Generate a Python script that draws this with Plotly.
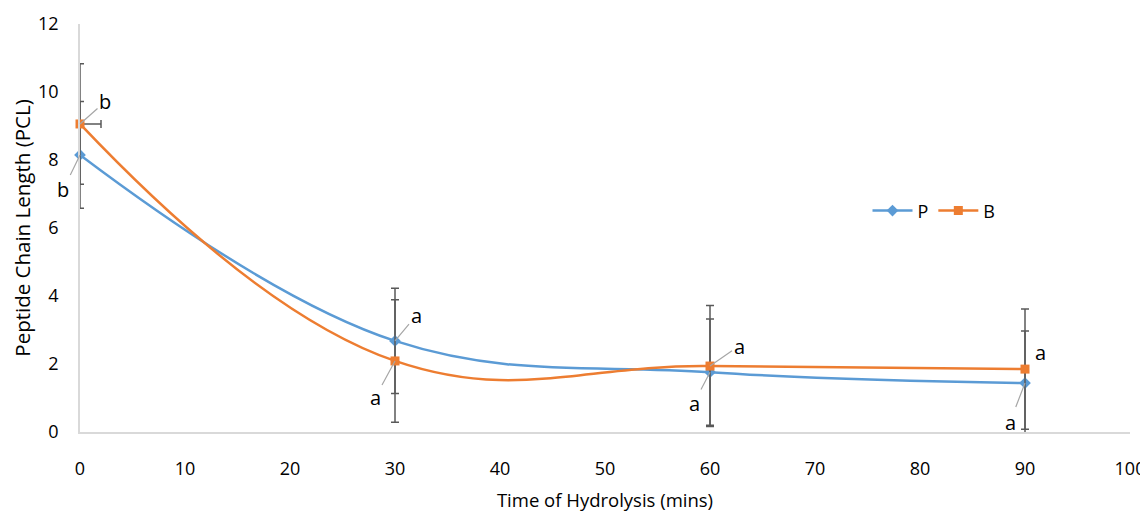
import plotly.graph_objects as go

time = [0, 30, 60, 90]
p_vals = [8.15, 2.68, 1.76, 1.44]
b_vals = [9.06, 2.09, 1.94, 1.85]
p_err = [1.57, 1.55, 1.56, 1.53]
b_err = [1.77, 1.80, 1.78, 1.77]
b_err_x = [2.0, 0, 0, 0]
p_labels = ["b", "a", "a", "a"]
b_labels = ["b", "a", "a", "a"]
x_ticks = list(range(0, 101, 10))
y_ticks = list(range(0, 13, 2))

FONT = "Open Sans, Liberation Sans, sans-serif"
ERR = "#595959"

fig = go.Figure()
fig.add_trace(go.Scatter(
    x=time, y=p_vals, name="P", mode="lines+markers",
    line=dict(color="#5B9BD5", width=2.5, shape="spline", smoothing=1.1),
    marker=dict(symbol="diamond", size=9, color="#5B9BD5"),
    error_y=dict(type="data", array=p_err, color=ERR, thickness=1.5, width=4),
    cliponaxis=False,
))
fig.add_trace(go.Scatter(
    x=time, y=b_vals, name="B", mode="lines+markers",
    line=dict(color="#ED7D31", width=2.5, shape="spline", smoothing=1.2),
    marker=dict(symbol="square", size=9, color="#ED7D31"),
    error_y=dict(type="data", array=b_err, color=ERR, thickness=1.5, width=4),
    error_x=dict(type="data", symmetric=False, array=b_err_x, arrayminus=[0, 0, 0, 0],
                 color=ERR, thickness=1.5, width=4),
    cliponaxis=False,
))

p_off = [(-17, 35), (21, -25), (-16, 31), (-15, 39)]
b_off = [(25, -22), (-20, 37), (29, -20), (15, -17)]
b_line = [True, True, True, False]
for i, t in enumerate(time):
    fig.add_annotation(x=t, y=p_vals[i], text=p_labels[i], ax=p_off[i][0], ay=p_off[i][1],
                       showarrow=True, arrowhead=0, arrowwidth=1.2, arrowcolor="#A6A6A6",
                       font=dict(size=20, color="#000000", family=FONT))
    fig.add_annotation(x=t, y=b_vals[i], text=b_labels[i], ax=b_off[i][0], ay=b_off[i][1],
                       showarrow=True, arrowhead=0, arrowwidth=1.2,
                       arrowcolor="#A6A6A6" if b_line[i] else "rgba(0,0,0,0)",
                       font=dict(size=20, color="#000000", family=FONT))

fig.update_layout(
    width=1140, height=506,
    margin=dict(l=72, r=18, t=16, b=82, autoexpand=False),
    paper_bgcolor="white", plot_bgcolor="white",
    font=dict(family=FONT, size=18, color="#000000"),
    showlegend=True,
    legend=dict(orientation="h", x=0.75, y=0.542, xanchor="left", yanchor="middle",
                font=dict(size=18), bgcolor="rgba(0,0,0,0)", itemwidth=40),
    xaxis=dict(range=[0, 100], tickvals=x_ticks, showgrid=False, zeroline=False,
               showline=True, linecolor="#D9D9D9", linewidth=1.5, automargin=False,
               ticks="outside", ticklen=20, tickcolor="rgba(0,0,0,0)",
               tickfont=dict(size=18),
               title=dict(text="Time of Hydrolysis (mins)", standoff=15, font=dict(size=18.5))),
    yaxis=dict(range=[0, 12], tickvals=y_ticks, showgrid=False, zeroline=False,
               showline=True, linecolor="#D9D9D9", linewidth=1.5, automargin=False,
               ticks="outside", ticklen=16, tickcolor="rgba(0,0,0,0)",
               tickfont=dict(size=18),
               title=dict(text="Peptide Chain Length (PCL)", standoff=8, font=dict(size=20.5))),
)

fig.write_html("out.html")
